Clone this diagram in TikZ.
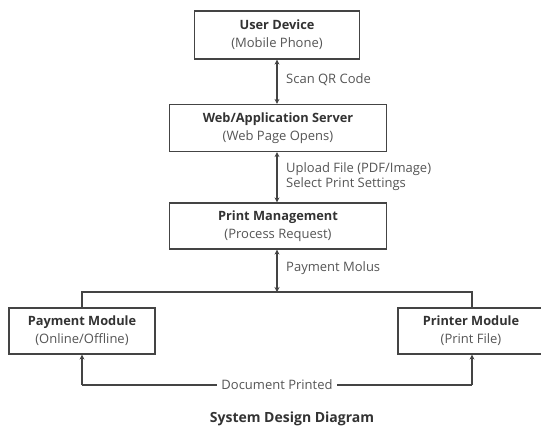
\documentclass[tikz,border=0pt]{standalone}
\usepackage{fontspec}
\setmainfont{Open Sans}
\usetikzlibrary{arrows.meta}
\definecolor{txt}{HTML}{333333}
\definecolor{sub}{HTML}{555555}
\definecolor{ln}{HTML}{444444}
\tikzset{
  box/.style={draw=ln, line width=1.2pt, fill=white, align=center, inner sep=2pt, text=txt, font=\fontsize{12.8}{18}\selectfont},
  conn/.style={draw=ln, line width=1.2pt},
  arr/.style={conn, -{Stealth[length=5pt,width=5pt]}},
  biarr/.style={conn, {Stealth[length=5pt,width=5pt]}-{Stealth[length=5pt,width=5pt]}},
  lbl/.style={anchor=west, text=sub, align=left, font=\fontsize{13}{15}\selectfont, inner sep=0pt},
}
\newcommand{\hdtxt}[1]{\textbf{#1}}
\newcommand{\sbtxt}[1]{{\color{sub}\fontsize{13}{18}\selectfont#1}}
\begin{document}
\begin{tikzpicture}[x=1pt,y=-1pt]
\useasboundingbox (0,0) rectangle (541,429);
\node[box, minimum width=165pt, minimum height=48pt] (ud) at (277,35) {\hdtxt{User Device}\\\sbtxt{(Mobile Phone)}};
\node[box, minimum width=217pt, minimum height=47pt] (ws) at (278,128) {\hdtxt{Web/Application Server}\\\sbtxt{(Web Page Opens)}};
\node[box, minimum width=217pt, minimum height=46pt] (pm) at (278,226) {\hdtxt{Print Management}\\\sbtxt{(Process Request)}};
\node[box, minimum width=146pt, minimum height=46pt] (pay) at (82,331) {\hdtxt{Payment Module}\\\sbtxt{(Online/Offline)}};
\node[box, minimum width=146pt, minimum height=46pt] (pr) at (471,331) {\hdtxt{Printer Module}\\\sbtxt{(Print File)}};

\draw[biarr] (ud.south -| 277,0) -- (ws.north -| 277,0);
\node[lbl] (l1) at (286,80) {Scan QR Code};
\draw[biarr] (ws.south -| 277,0) -- (pm.north -| 277,0);
\node[lbl] (l2) at (286,177) {Upload File (PDF/Image)\\Select Print Settings};
\coordinate (j) at (277,292);
\draw[biarr] (pm.south -| j) -- (j);
\node[lbl] (l3) at (286,268) {Payment Molus};
\coordinate (jl) at (82,292);
\coordinate (jr) at (472,292);
\draw[conn] (pay.north -| jl) -- (jl) -- (jr) -- (pr.north -| jr);

\coordinate (bl) at (82,385);
\coordinate (br) at (472,385);
\draw[arr] (bl) -- (pay.south -| bl);
\draw[arr] (br) -- (pr.south -| br);
\draw[conn] (bl) -- (br);
\node[fill=white, text=sub, font=\fontsize{13}{15}\selectfont, inner xsep=4pt] (dp) at (277,385) {Document Printed};

\node[text=txt, font=\bfseries\fontsize{14}{15}\selectfont] (title) at (292,419) {System Design Diagram};
\end{tikzpicture}
\end{document}
